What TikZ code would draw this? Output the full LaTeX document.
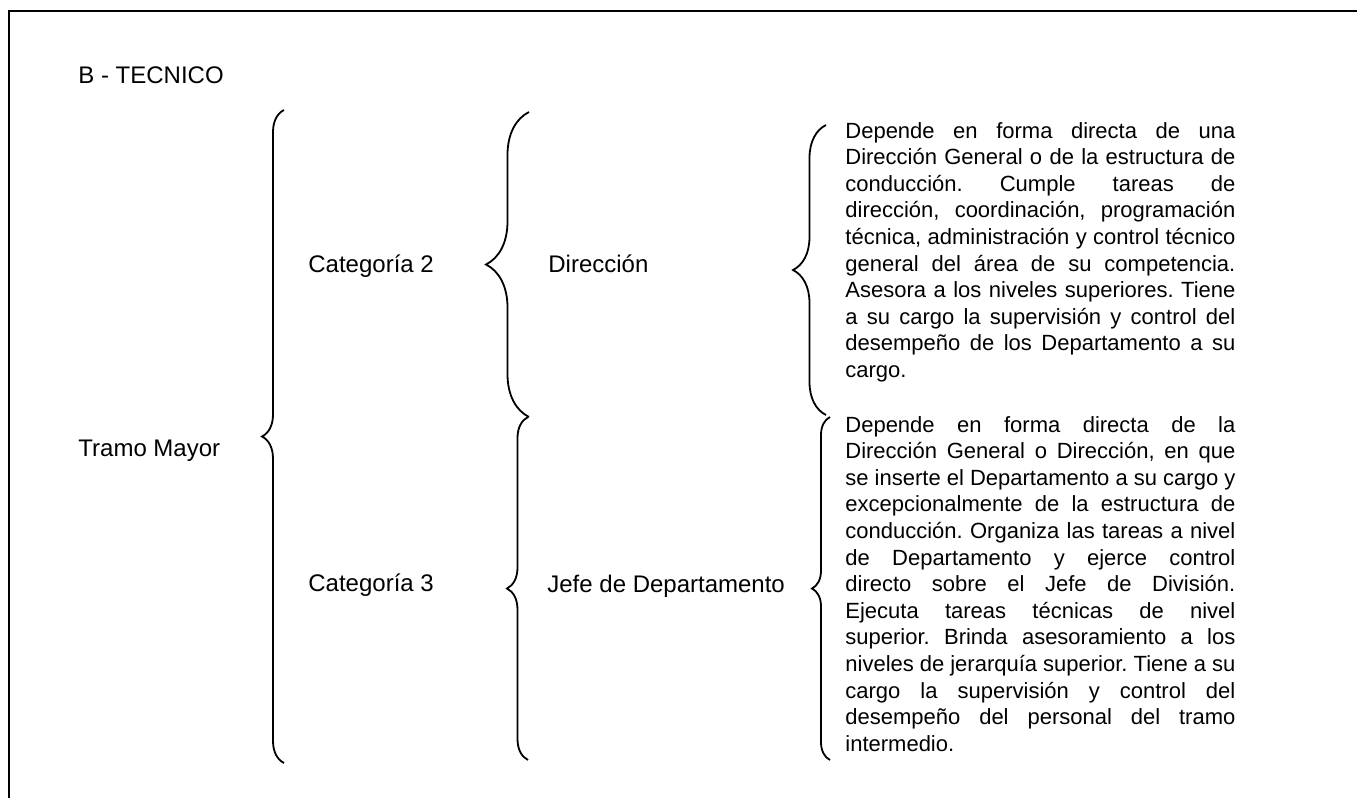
\documentclass[tikz,border=0pt]{standalone}
\usepackage{fontspec}
\setmainfont{Liberation Sans}
\usetikzlibrary{positioning, decorations.pathreplacing}
\frenchspacing

\begin{document}
\begin{tikzpicture}[x=0.5pt, y=-0.5pt,
	lbl/.style={anchor=base west, inner sep=0, font=\fontsize{12}{14}\selectfont},
	desc/.style={anchor=base west, inner sep=0, text width=195pt, align=justify, font=\fontsize{11}{13.3}\selectfont},
	curly/.style={decorate, decoration={brace, amplitude=#1}, line width=0.9pt}]
\useasboundingbox (0,0) rectangle (1357,798);
\draw[line width=1pt] (9,798) |- (1357,11);
\node[lbl] (titulo) at (78,83) {B - TECNICO};
% llaves
\foreach \n/\x/\ya/\yb in {tramo/284/110/763, dir/529/112/417, jefe/528/417/760, dirtxt/826/125/415, jefetxt/830/417/760} {
	\coordinate (\n top) at (\x,\ya);
	\coordinate (\n bot) at (\x,\yb);
}
\foreach \n/\a in {tramo/11pt, dir/21.5pt, jefe/10.5pt, dirtxt/16.5pt, jefetxt/9pt}
	\draw[curly=\a] (\n bot) -- (\n top);
\node[lbl] (tramo) at (78,456) {Tramo Mayor};
\node[lbl] (cat2) at (308,272) {Categoría 2};
\node[lbl] (cat3) at (308,591) {Categoría 3};
\node[lbl] (dir) at (548,272) {Dirección};
\node[lbl] (jefe) at (547,592) {Jefe de Departamento};
\node[desc] (dirdesc) at (845,138) {Depende en forma directa de una\linebreak
	Dirección General o de la estructura de\linebreak
	conducción. Cumple tareas de\linebreak
	dirección, coordinación, programación\linebreak
	técnica, administración y control técnico\linebreak
	general del área de su competencia.\linebreak
	Asesora a los niveles superiores. Tiene\linebreak
	a su cargo la supervisión y control del\linebreak
	desempeño de los Departamento a su\linebreak
	cargo.};
\node[desc] (jefedesc) at (845,432) {Depende en forma directa de la\linebreak
	Dirección General o Dirección, en que\linebreak
	se inserte el Departamento a su cargo y\linebreak
	excepcionalmente de la estructura de\linebreak
	conducción. Organiza las tareas a nivel\linebreak
	de Departamento y ejerce control\linebreak
	directo sobre el Jefe de División.\linebreak
	Ejecuta tareas técnicas de nivel\linebreak
	superior. Brinda asesoramiento a los\linebreak
	niveles de jerarquía superior. Tiene a su\linebreak
	cargo la supervisión y control del\linebreak
	desempeño del personal del tramo\linebreak
	intermedio.};
\end{tikzpicture}
\end{document}
